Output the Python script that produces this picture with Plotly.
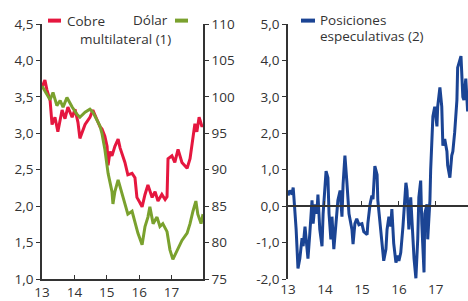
import plotly.graph_objects as go

# ---------------- data ----------------
cobre_years = [13.00, 13.09, 13.15, 13.25, 13.31, 13.40, 13.49, 13.62, 13.71, 13.80, 13.93, 14.02,
               14.11, 14.17, 14.33, 14.48, 14.57, 14.70, 14.79, 14.85, 14.94, 15.01, 15.04, 15.10,
               15.16, 15.25, 15.35, 15.41, 15.47, 15.56, 15.65, 15.78, 15.87, 15.93, 16.02, 16.09,
               16.18, 16.27, 16.40, 16.49, 16.58, 16.70, 16.80, 16.86, 16.89, 17.01, 17.10, 17.20,
               17.32, 17.48, 17.57, 17.66, 17.72, 17.78, 17.85, 17.94, 17.97]
cobre_values = [3.63, 3.73, 3.60, 3.45, 3.12, 3.22, 3.02, 3.32, 3.20, 3.36, 3.22, 3.33,
                3.15, 2.93, 3.12, 3.22, 3.32, 3.18, 3.09, 3.06, 2.96, 2.82, 2.56, 2.75,
                2.69, 2.82, 2.92, 2.80, 2.73, 2.60, 2.43, 2.45, 2.39, 2.12, 2.05, 1.99,
                2.16, 2.29, 2.12, 2.20, 2.07, 2.16, 2.09, 2.13, 2.65, 2.69, 2.60, 2.78,
                2.60, 2.52, 2.65, 2.96, 3.13, 3.02, 3.22, 3.09, 3.12]

dolar_years = [13.00, 13.09, 13.25, 13.34, 13.46, 13.56, 13.65, 13.77, 13.93, 14.08, 14.17, 14.33,
               14.48, 14.57, 14.70, 14.79, 14.85, 14.94, 15.04, 15.16, 15.19, 15.25, 15.35, 15.47,
               15.56, 15.65, 15.78, 15.87, 15.96, 16.09, 16.18, 16.27, 16.33, 16.43, 16.55, 16.64,
               16.73, 16.86, 16.95, 17.04, 17.17, 17.32, 17.48, 17.57, 17.66, 17.75, 17.81, 17.91,
               17.97]
dolar_values = [101.5, 100.8, 99.6, 100.6, 98.8, 99.5, 98.6, 99.9, 98.6, 97.6, 97.2, 97.9,
                98.3, 97.9, 96.8, 96.0, 95.0, 92.8, 89.5, 87.0, 85.3, 87.0, 88.6, 86.6,
                85.3, 83.9, 84.3, 82.6, 81.3, 79.7, 82.2, 83.5, 84.9, 82.6, 83.5, 82.2,
                82.6, 81.5, 79.0, 77.7, 79.0, 80.3, 81.3, 82.6, 84.3, 85.7, 83.9, 82.6,
                83.9]

pos_years = [13.00, 13.05, 13.11, 13.14, 13.16, 13.22, 13.27, 13.32, 13.38, 13.41, 13.46, 13.51,
             13.54, 13.59, 13.65, 13.68, 13.73, 13.78, 13.81, 13.86, 13.92, 13.95, 14.03, 14.08,
             14.11, 14.16, 14.19, 14.24, 14.30, 14.35, 14.41, 14.46, 14.49, 14.54, 14.59, 14.65,
             14.73, 14.76, 14.81, 14.86, 14.92, 15.00, 15.05, 15.14, 15.16, 15.22, 15.27, 15.30,
             15.35, 15.41, 15.43, 15.49, 15.54, 15.59, 15.65, 15.68, 15.73, 15.78, 15.81, 15.86,
             15.92, 15.97, 16.00, 16.05, 16.11, 16.19, 16.22, 16.27, 16.32, 16.35, 16.41, 16.46,
             16.51, 16.54, 16.59, 16.62, 16.68, 16.70, 16.76, 16.78, 16.84, 16.86, 16.89, 16.92,
             16.97, 17.03, 17.05, 17.11, 17.16, 17.19, 17.24, 17.30, 17.32, 17.38, 17.43, 17.46,
             17.51, 17.57, 17.59, 17.68, 17.73, 17.76, 17.81, 17.86]
pos_values = [0.29, 0.43, 0.32, 0.51, 0.24, -0.64, -1.71, -1.44, -0.88, -1.10, -0.56, -1.28,
              -1.44, -0.75, 0.16, -0.48, 0.05, -0.21, 0.32, -0.64, -1.10, -0.21, 0.96, 0.78,
              -0.21, -0.91, -0.29, -1.18, -0.56, 0.16, 0.43, -0.29, 0.59, 1.39, 0.70, -0.21,
              -0.64, -1.04, -0.48, -0.35, -0.51, -0.48, -0.70, -0.78, -0.48, 0.05, 0.29, 0.19,
              1.10, 0.86, 0.16, -0.48, -1.10, -1.50, -1.18, -0.64, -0.29, -0.56, -0.08, -1.02,
              -1.55, -1.36, -1.50, -1.28, -0.56, 0.64, 0.43, -0.64, 0.24, -0.48, -1.44, -1.98,
              -0.91, 0.24, 0.70, -0.48, -1.82, -0.21, 0.05, -0.91, 0.16, 1.00, 2.00, 2.46,
              2.73, 2.19, 2.73, 3.26, 2.73, 1.66, 1.84, 1.50, 1.12, 0.78, 1.39, 1.50,
              2.03, 2.91, 3.80, 4.12, 3.00, 2.91, 3.50, 2.60]

x_ticks = [13, 14, 15, 16, 17]
x_ticktext = ["13", "14", "15", "16", "17"]
cobre_ticks = [1.0, 1.5, 2.0, 2.5, 3.0, 3.5, 4.0, 4.5]
cobre_ticktext = ["1,0", "1,5", "2,0", "2,5", "3,0", "3,5", "4,0", "4,5"]
dolar_ticks = [75, 80, 85, 90, 95, 100, 105, 110]
dolar_ticktext = ["75", "80", "85", "90", "95", "100", "105", "110"]
pos_ticks = [-2, -1, 0, 1, 2, 3, 4, 5]
pos_ticktext = ["-2,0", "-1,0", "0,0", "1,0", "2,0", "3,0", "4,0", "5,0"]

# ---------------- style ----------------
RED = "#E5173F"
GREEN = "#7AA12E"
BLUE = "#1B4494"
AXIS = "#333333"
TXT = "#333333"
FONT = "Open Sans"
FS = 13.5

W, H = 468, 301
ML, MR, MT, MB = 42, 0, 24, 14
PW, PH = W - ML - MR, H - MT - MB


def px(x):
    return (x - ML) / PW


def py(y):
    return (H - MB - y) / PH


fig = go.Figure()
fig.add_trace(go.Scatter(x=cobre_years, y=cobre_values, mode="lines",
                         line=dict(color=RED, width=3), xaxis="x", yaxis="y"))
fig.add_trace(go.Scatter(x=dolar_years, y=dolar_values, mode="lines",
                         line=dict(color=GREEN, width=3), xaxis="x", yaxis="y2"))
# invisible trace so that the zero-line axis (x3) is drawn
fig.add_trace(go.Scatter(x=pos_years, y=pos_values, mode="lines", opacity=0,
                         hoverinfo="skip", line=dict(color=BLUE, width=1),
                         xaxis="x3", yaxis="y3"))
fig.add_trace(go.Scatter(x=pos_years, y=pos_values, mode="lines",
                         line=dict(color=BLUE, width=3), xaxis="x2", yaxis="y3"))

tickfont = dict(family=FONT, size=FS, color=TXT)
left_dom = [0, px(203)]
right_dom = [px(288), 1]

fig.update_layout(
    width=W, height=H,
    margin=dict(l=ML, r=MR, t=MT, b=MB),
    paper_bgcolor="white", plot_bgcolor="white",
    showlegend=False,
    font=dict(family=FONT, size=FS, color=TXT),
    xaxis=dict(domain=left_dom, range=[13, 17.97], tickvals=x_ticks, ticktext=x_ticktext,
               showline=True, linecolor=AXIS, linewidth=1.5, ticks="inside", ticklen=4,
               tickcolor=AXIS, showgrid=False, zeroline=False, tickfont=tickfont, anchor="y"),
    yaxis=dict(domain=[0, 1], range=[1.0, 4.5], tickvals=cobre_ticks, ticktext=cobre_ticktext,
               showline=True, linecolor=AXIS, linewidth=1.5, ticks="outside", ticklen=4,
               tickcolor=AXIS, showgrid=False, zeroline=False, tickfont=tickfont, anchor="x"),
    yaxis2=dict(range=[75, 110], tickvals=dolar_ticks, ticktext=dolar_ticktext,
                overlaying="y", side="right", anchor="x",
                showline=True, linecolor=AXIS, linewidth=1.5, ticks="outside", ticklen=4,
                tickcolor=AXIS, showgrid=False, zeroline=False, tickfont=tickfont),
    xaxis2=dict(domain=right_dom, range=[13, 17.87], tickvals=x_ticks, ticktext=x_ticktext,
                showline=False, ticks="", showgrid=False, zeroline=False,
                tickfont=tickfont, anchor="y3"),
    yaxis3=dict(domain=[0, 1], range=[-2, 5], tickvals=pos_ticks, ticktext=pos_ticktext,
                showline=True, linecolor=AXIS, linewidth=1.5, ticks="outside", ticklen=4,
                tickcolor=AXIS, showgrid=False, zeroline=False, tickfont=tickfont, anchor="x2"),
    xaxis3=dict(overlaying="x2", range=[13, 17.87], tickvals=[14, 15, 16, 17],
                showticklabels=False, anchor="free", position=2 / 7, side="bottom",
                showline=True, linecolor=AXIS, linewidth=1.5, ticks="inside", ticklen=4,
                tickcolor=AXIS, showgrid=False, zeroline=False),
)

# legend swatches and labels
shapes = [
    dict(type="line", xref="paper", yref="paper", x0=px(48), x1=px(61), y0=py(20.5), y1=py(20.5),
         line=dict(color=RED, width=4)),
    dict(type="line", xref="paper", yref="paper", x0=px(175), x1=px(188), y0=py(20.5), y1=py(20.5),
         line=dict(color=GREEN, width=4)),
    dict(type="line", xref="paper", yref="paper", x0=px(301), x1=px(315), y0=py(20.5), y1=py(20.5),
         line=dict(color=BLUE, width=4)),
]
fig.update_layout(shapes=shapes)

ann = [
    dict(text="Cobre", x=px(65), y=py(21), xanchor="left", yanchor="middle"),
    dict(text="Dólar", x=px(170), y=py(20), xanchor="right", yanchor="middle"),
    dict(text="multilateral (1)", x=px(173), y=py(39), xanchor="right", yanchor="middle"),
    dict(text="Posiciones", x=px(318), y=py(20), xanchor="left", yanchor="middle"),
    dict(text="especulativas (2)", x=px(318), y=py(36), xanchor="left", yanchor="middle"),
]
for a in ann:
    fig.add_annotation(xref="paper", yref="paper", showarrow=False,
                       font=dict(family=FONT, size=FS, color=TXT), **a)

fig.write_html("out.html",
               config={"displayModeBar": False},
               post_script="document.body.style.margin='0';document.body.style.padding='0';")
